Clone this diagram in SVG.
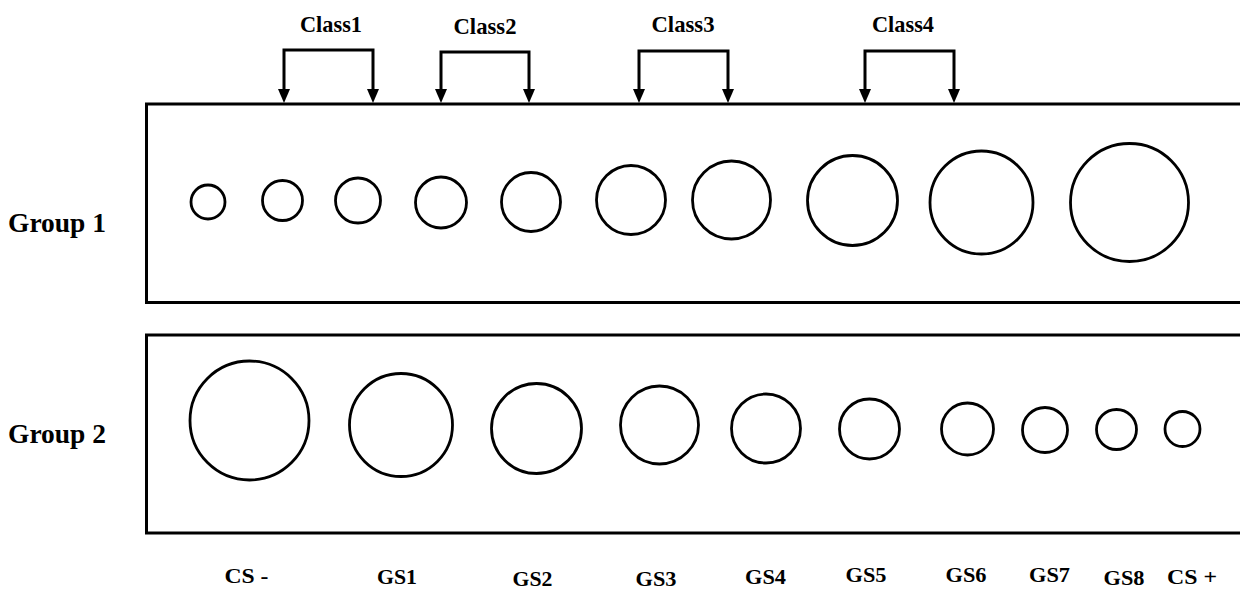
<svg xmlns="http://www.w3.org/2000/svg" width="1240" height="590" viewBox="0 0 1240 590">
<style>
.t{font-family:"Liberation Serif","Times New Roman",serif;font-weight:bold;fill:#000;}
.cl{font-size:24px;text-anchor:middle;}
.bl{font-size:22px;text-anchor:middle;}
.box{fill:none;stroke:#000;stroke-width:3;}
.c{fill:none;stroke:#000;stroke-width:2.8;}
.br{fill:none;stroke:#000;stroke-width:3;marker-start:url(#ah);marker-end:url(#ah);}
</style>
<defs>
<marker id="ah" markerUnits="userSpaceOnUse" viewBox="0 0 14 12" markerWidth="14" markerHeight="12" refX="1" refY="6" orient="auto-start-reverse">
<path d="M0,0 L14,6 L0,12 z" fill="#000"/>
</marker>
</defs>
<rect width="1240" height="590" fill="#fff"/>

<g id="labels-group">
<text class="t" x="8" y="232" font-size="27" textLength="98" lengthAdjust="spacingAndGlyphs">Group 1</text>
<text class="t" x="8" y="443" font-size="27" textLength="98" lengthAdjust="spacingAndGlyphs">Group 2</text>
</g>

<g id="class-labels">
<text class="t cl" x="331" y="32" textLength="62" lengthAdjust="spacingAndGlyphs">Class1</text>
<text class="t cl" x="485" y="34" textLength="63" lengthAdjust="spacingAndGlyphs">Class2</text>
<text class="t cl" x="683" y="32" textLength="63" lengthAdjust="spacingAndGlyphs">Class3</text>
<text class="t cl" x="903" y="32" textLength="62" lengthAdjust="spacingAndGlyphs">Class4</text>
</g>

<g id="connectors">
<path class="br" d="M284,90 V50 H373 V90"/>
<path class="br" d="M441,90 V52 H529 V90"/>
<path class="br" d="M639,90 V51 H728 V90"/>
<path class="br" d="M865,90 V51 H954 V90"/>
</g>

<g id="group1">
<rect class="box" x="146.5" y="104" width="1100" height="198.5"/>
<g id="g1-c1"><circle class="c" cx="208" cy="202" r="17"/></g>
<g id="g1-c2"><circle class="c" cx="282.5" cy="200.5" r="20"/></g>
<g id="g1-c3"><circle class="c" cx="358" cy="200.5" r="22.5"/></g>
<g id="g1-c4"><circle class="c" cx="441" cy="202.5" r="25.5"/></g>
<g id="g1-c5"><circle class="c" cx="531" cy="202" r="29.5"/></g>
<g id="g1-c6"><circle class="c" cx="631" cy="200" r="34.5"/></g>
<g id="g1-c7"><circle class="c" cx="731.5" cy="200" r="39"/></g>
<g id="g1-c8"><circle class="c" cx="852.5" cy="200.5" r="45"/></g>
<g id="g1-c9"><circle class="c" cx="981.5" cy="202.5" r="51.5"/></g>
<g id="g1-c10"><circle class="c" cx="1129.5" cy="202.5" r="59"/></g>
</g>

<g id="group2">
<rect class="box" x="146.5" y="335" width="1100" height="198"/>
<g id="g2-c1"><circle class="c" cx="249.5" cy="420.5" r="59.5"/></g>
<g id="g2-c2"><circle class="c" cx="401" cy="425" r="51.5"/></g>
<g id="g2-c3"><circle class="c" cx="536.5" cy="428.5" r="45"/></g>
<g id="g2-c4"><circle class="c" cx="659.5" cy="425" r="39"/></g>
<g id="g2-c5"><circle class="c" cx="766" cy="428.5" r="34.5"/></g>
<g id="g2-c6"><circle class="c" cx="869.5" cy="429" r="30"/></g>
<g id="g2-c7"><circle class="c" cx="967.5" cy="429" r="26"/></g>
<g id="g2-c8"><circle class="c" cx="1045" cy="430" r="22.5"/></g>
<g id="g2-c9"><circle class="c" cx="1116.5" cy="429.5" r="20"/></g>
<g id="g2-c10"><circle class="c" cx="1182.5" cy="429" r="17.5"/></g>
</g>

<g id="bottom-labels">
<text class="t bl" x="246.5" y="583" textLength="44" lengthAdjust="spacingAndGlyphs">CS -</text>
<text class="t bl" x="397" y="584" textLength="40" lengthAdjust="spacingAndGlyphs">GS1</text>
<text class="t bl" x="532.5" y="586" textLength="40" lengthAdjust="spacingAndGlyphs">GS2</text>
<text class="t bl" x="656" y="586" textLength="41" lengthAdjust="spacingAndGlyphs">GS3</text>
<text class="t bl" x="765.5" y="584" textLength="41" lengthAdjust="spacingAndGlyphs">GS4</text>
<text class="t bl" x="866" y="582" textLength="41" lengthAdjust="spacingAndGlyphs">GS5</text>
<text class="t bl" x="966" y="582" textLength="41" lengthAdjust="spacingAndGlyphs">GS6</text>
<text class="t bl" x="1049.5" y="582" textLength="41" lengthAdjust="spacingAndGlyphs">GS7</text>
<text class="t bl" x="1124" y="585" textLength="41" lengthAdjust="spacingAndGlyphs">GS8</text>
<text class="t bl" x="1192" y="584" textLength="50" lengthAdjust="spacingAndGlyphs">CS +</text>
</g>
</svg>
